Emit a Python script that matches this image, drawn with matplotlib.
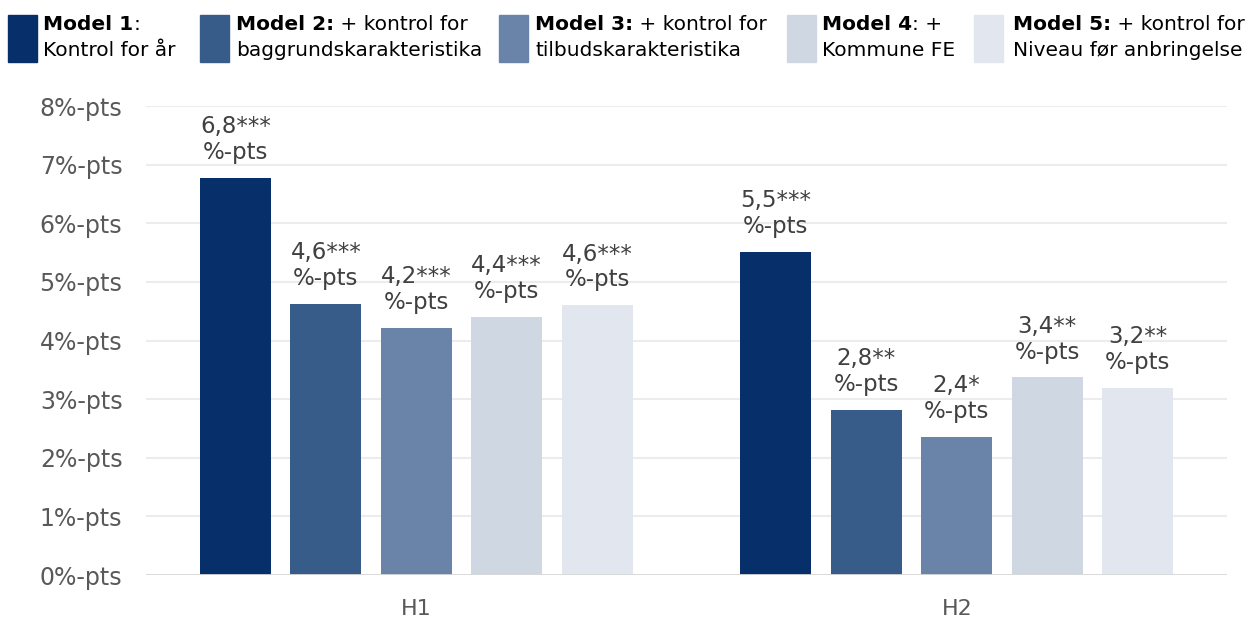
import numpy as np
import matplotlib
matplotlib.use("Agg")
import matplotlib.pyplot as plt
from matplotlib.patches import Rectangle

# data
groups = ["H1", "H2"]
models = ["Model 1", "Model 2", "Model 3", "Model 4", "Model 5"]
h1_vals = [6.78, 4.63, 4.22, 4.40, 4.60]
h2_vals = [5.51, 2.82, 2.36, 3.37, 3.19]
h1_labels = ["6,8***", "4,6***", "4,2***", "4,4***", "4,6***"]
h2_labels = ["5,5***", "2,8**", "2,4*", "3,4**", "3,2**"]
yticks = [0, 1, 2, 3, 4, 5, 6, 7, 8]
ytick_labels = ["%d%%-pts" % v for v in yticks]

# legend text: (bold part, rest of first line, second line)
legend_bold = ["Model 1", "Model 2:", "Model 3:", "Model 4", "Model 5:"]
legend_rest = [":", " + kontrol for", " + kontrol for", ": +", " + kontrol for"]
legend_line2 = ["Kontrol for år", "baggrundskarakteristika", "tilbudskarakteristika",
                "Kommune FE", "Niveau før anbringelse"]

colors = ["#07306b", "#385c8a", "#6a84a9", "#cfd7e3", "#e2e7ef"]

W, H = 1253, 617
fig = plt.figure(figsize=(W / 100, H / 100), dpi=100)
ax = fig.add_axes([146 / W, 42 / H, 1081 / W, 469 / H])

x = np.arange(len(groups))
step = 0.1673
width = 0.131
vals = np.array([h1_vals, h2_vals])
labs = [h1_labels, h2_labels]

for i in range(len(models)):
    pos = x + (i - 2) * step
    ax.bar(pos, vals[:, i], width, color=colors[i], zorder=3)
    for g in range(len(groups)):
        ax.annotate(labs[g][i] + "\n%-pts", xy=(pos[g], vals[g, i]),
                    xytext=(0, 10), textcoords="offset points",
                    ha="center", va="bottom", fontsize=16.5, color="#404040",
                    linespacing=1.15, annotation_clip=False)

ax.set_xlim(-0.5, 1.5)
ax.set_ylim(0, 8)
ax.set_yticks(yticks)
ax.set_yticklabels(ytick_labels)
ax.set_xticks(x)
ax.set_xticklabels(groups)
ax.tick_params(axis="y", length=0, pad=17, labelsize=17, labelcolor="#595959")
ax.tick_params(axis="x", length=0, pad=17, labelsize=16, labelcolor="#595959")
for s in ax.spines.values():
    s.set_visible(False)
ax.grid(axis="y", color="#ececec", linewidth=1.5, zorder=0)
ax.axhline(0, color="#d9d9d9", linewidth=2, zorder=4)

# legend, built by hand because of the mixed bold text
patch_x = [8, 200, 499, 787, 974]
text_x = [43, 236, 535, 822, 1013]
for i in range(len(models)):
    fig.patches.append(Rectangle((patch_x[i] / W, 1 - 62 / H), 29 / W, 47 / H,
                                 transform=fig.transFigure, color=colors[i]))
    t = fig.text(text_x[i] / W, 1 - 25 / H, legend_bold[i], fontsize=14.5,
                 fontweight="bold", va="center", ha="left", color="black")
    ax.annotate(legend_rest[i], xy=(1, 0), xycoords=t, va="bottom", ha="left",
                fontsize=14.5, color="black", annotation_clip=False)
    fig.text(text_x[i] / W, 1 - 50 / H, legend_line2[i], fontsize=14.5,
             va="center", ha="left", color="black")

fig.savefig("out.png", dpi=100)
